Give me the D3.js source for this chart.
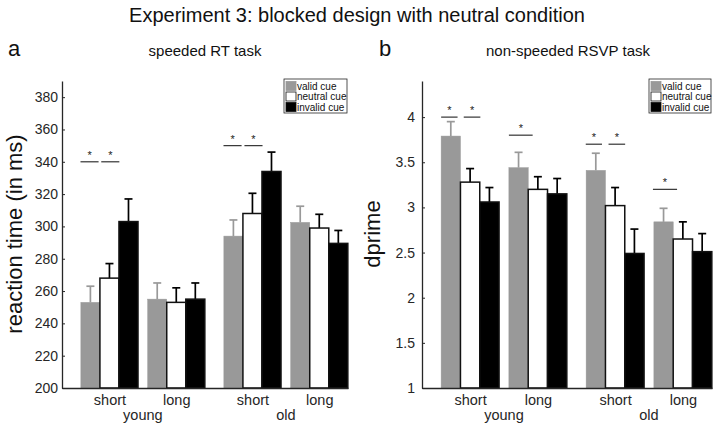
<!DOCTYPE html>
<html>
<head>
<meta charset="utf-8">
<script src="https://cdn.jsdelivr.net/npm/d3@7"></script>
<style>
  html, body { margin: 0; padding: 0; background: #fff; }
  svg { display: block; font-family: "Liberation Sans", Arial, Helvetica, sans-serif; }
</style>
</head>
<body>
<svg id="chart" width="714" height="428"></svg>
<script>
// ---------- DATA ----------
const groups = ["short", "long", "short", "long"];
const ageGroups = ["young", "old"];
const conditions = ["valid cue", "neutral cue", "invalid cue"];

// speeded RT task (ms): [group][condition]
const rtMeans = [
  [253, 268, 303],
  [255, 253, 255],
  [294, 308, 334],
  [302.5, 299, 289.5]
];
const rtErrors = [
  [10, 9, 14],
  [10, 9, 10],
  [10, 12.5, 12],
  [10, 8.5, 8]
];
const rtTicks = [200, 220, 240, 260, 280, 300, 320, 340, 360, 380];

// non-speeded RSVP task (d'): [group][condition]
const dpMeans = [
  [3.79, 3.28, 3.06],
  [3.44, 3.20, 3.15],
  [3.41, 3.02, 2.49],
  [2.84, 2.65, 2.51]
];
const dpErrors = [
  [0.16, 0.15, 0.16],
  [0.17, 0.14, 0.17],
  [0.19, 0.20, 0.27],
  [0.15, 0.19, 0.20]
];
const dpTicks = [1, 1.5, 2, 2.5, 3, 3.5, 4];

// significance markers: group index, span (in bar widths from group centre), height
const rtSig = [
  {g: 0, from: -1.52, to: -0.57, y: 340},
  {g: 0, from: -0.43, to: 0.52, y: 340},
  {g: 2, from: -1.52, to: -0.57, y: 350},
  {g: 2, from: -0.42, to: 0.53, y: 350}
];
const dpSig = [
  {g: 0, from: -1.5, to: -0.65, y: 4.0},
  {g: 0, from: -0.33, to: 0.53, y: 4.0},
  {g: 1, from: -1.5, to: -0.27, y: 3.8},
  {g: 2, from: -1.52, to: -0.68, y: 3.7},
  {g: 2, from: -0.34, to: 0.52, y: 3.7},
  {g: 3, from: -1.55, to: -0.3, y: 3.2}
];

// ---------- STYLE / LAYOUT ----------
const groupPos = [1, 2, 3.14, 4.14];
const xDomain = [0.29, 4.57];
const barW = 0.285;
const fills = ["#999999", "#ffffff", "#000000"];
const errColors = ["#999999", "#000000", "#000000"];
const axisColor = "#262626";

const svg = d3.select("#chart");

svg.append("text")
  .attr("x", 357).attr("y", 22)
  .attr("text-anchor", "middle")
  .attr("font-size", 20)
  .attr("fill", "#111")
  .text("Experiment 3: blocked design with neutral condition");

function panel(opts) {
  const g = svg.append("g");
  const x = d3.scaleLinear().domain(xDomain).range([opts.x0, opts.x1]);
  const y = d3.scaleLinear().domain(opts.yDomain).range([388, 81]);
  const bwPx = x(barW) - x(0);

  // panel letter + subtitle
  svg.append("text").attr("x", opts.letterX).attr("y", 56)
    .attr("font-size", 22).attr("fill", "#111").text(opts.letter);
  svg.append("text").attr("x", opts.subX).attr("y", 56)
    .attr("text-anchor", "middle").attr("font-size", 15).attr("fill", "#111")
    .text(opts.subtitle);

  // bars
  opts.means.forEach((row, gi) => {
    row.forEach((v, ci) => {
      const cx = x(groupPos[gi] + (ci - 1) * barW);
      // error bar (upper only)
      const yTop = y(v + opts.errors[gi][ci]);
      g.append("line")
        .attr("x1", cx).attr("x2", cx)
        .attr("y1", y(v)).attr("y2", yTop)
        .attr("stroke", errColors[ci]).attr("stroke-width", 1.7);
      g.append("line")
        .attr("x1", cx - 4).attr("x2", cx + 4)
        .attr("y1", yTop).attr("y2", yTop)
        .attr("stroke", errColors[ci]).attr("stroke-width", 1.7);
      g.append("rect")
        .attr("x", cx - bwPx / 2)
        .attr("y", y(v))
        .attr("width", bwPx)
        .attr("height", y(opts.yDomain[0]) - y(v))
        .attr("fill", fills[ci])
        .attr("stroke", ci === 0 ? "#999999" : "#111")
        .attr("stroke-width", ci === 0 ? 0.5 : 1.5);
    });
  });

  // significance lines and stars
  opts.sig.forEach(s => {
    const xa = x(groupPos[s.g]) + s.from * bwPx;
    const xb = x(groupPos[s.g]) + s.to * bwPx;
    g.append("line")
      .attr("x1", xa).attr("x2", xb)
      .attr("y1", y(s.y)).attr("y2", y(s.y))
      .attr("stroke", "#333").attr("stroke-width", 1.2);
    g.append("text")
      .attr("x", (xa + xb) / 2).attr("y", y(s.y) - 3)
      .attr("text-anchor", "middle").attr("font-size", 11).attr("fill", "#222")
      .text("*");
  });

  // y axis
  const yAxis = d3.axisLeft(y).tickValues(opts.ticks)
    .tickFormat(d => String(d))
    .tickSizeInner(-3).tickSizeOuter(0).tickPadding(opts.tickPad);
  const ya = g.append("g").attr("transform", `translate(${opts.x0},0)`).call(yAxis);
  ya.select(".domain").attr("stroke", axisColor).attr("stroke-width", 1.3);
  ya.selectAll(".tick line").attr("stroke", axisColor);
  ya.selectAll(".tick text").attr("font-size", 14).attr("fill", axisColor)
    .attr("font-family", "Liberation Sans, Arial, sans-serif");

  // x axis
  const xAxis = d3.axisBottom(x).tickValues(groupPos)
    .tickFormat((d, i) => groups[i]).tickSize(0).tickPadding(7);
  const xa = g.append("g").attr("transform", `translate(0,388)`).call(xAxis);
  xa.select(".domain").attr("stroke", axisColor).attr("stroke-width", 1.3);
  xa.selectAll(".tick text").attr("font-size", 14.5).attr("fill", axisColor)
    .attr("font-family", "Liberation Sans, Arial, sans-serif");
  ageGroups.forEach((a, i) => {
    g.append("text")
      .attr("x", x((groupPos[2 * i] + groupPos[2 * i + 1]) / 2))
      .attr("y", 420)
      .attr("text-anchor", "middle").attr("font-size", 14.5).attr("fill", axisColor)
      .text(a);
  });

  // y label
  g.append("text")
    .attr("transform", `translate(${opts.labelX},234) rotate(-90)`)
    .attr("text-anchor", "middle").attr("font-size", 22).attr("fill", "#111")
    .text(opts.yLabel);

  // legend
  const lg = g.append("g").attr("transform", `translate(${opts.legX},79)`);
  lg.append("rect").attr("width", opts.legW).attr("height", 34)
    .attr("fill", "#fff").attr("stroke", axisColor).attr("stroke-width", 0.8);
  conditions.forEach((c, i) => {
    lg.append("rect").attr("x", 2).attr("y", 2.5 + i * 10.5)
      .attr("width", 10).attr("height", 9)
      .attr("fill", fills[i])
      .attr("stroke", i === 0 ? "#999" : "#111").attr("stroke-width", 0.8);
    lg.append("text").attr("x", 13).attr("y", 10.5 + i * 10.5)
      .attr("font-size", 10).attr("fill", "#111").text(c);
  });
}

panel({
  x0: 62, x1: 348, yDomain: [200, 390], ticks: rtTicks, tickPad: 4,
  means: rtMeans, errors: rtErrors, sig: rtSig,
  letter: "a", letterX: 8, subtitle: "speeded RT task", subX: 205,
  yLabel: "reaction time (in ms)", labelX: 22, legX: 284, legW: 63
});
panel({
  x0: 422, x1: 712, yDomain: [1, 4.4], ticks: dpTicks, tickPad: 7,
  means: dpMeans, errors: dpErrors, sig: dpSig,
  letter: "b", letterX: 379, subtitle: "non-speeded RSVP task", subX: 568,
  yLabel: "dprime", labelX: 380, legX: 649, legW: 62
});
</script>
</body>
</html>
